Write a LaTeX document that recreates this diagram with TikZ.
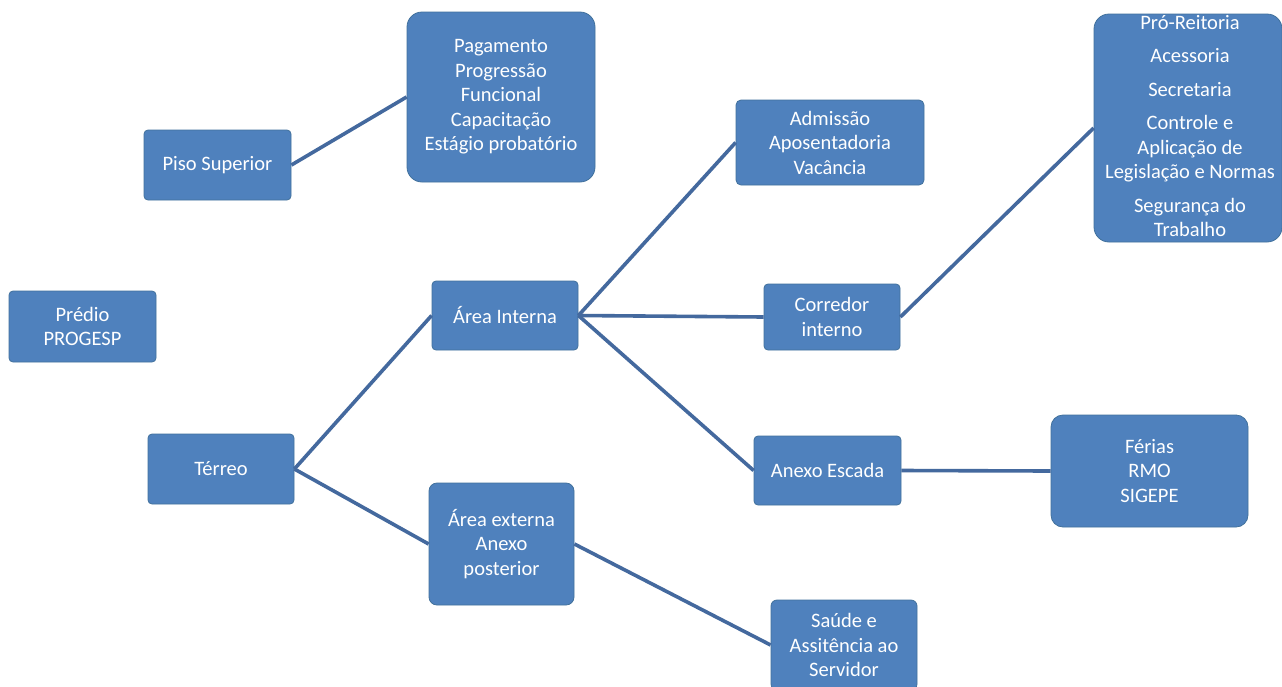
\documentclass[tikz,border=0pt]{standalone}
\usepackage{fontspec}
\setmainfont{Carlito}
\definecolor{boxfill}{HTML}{4F81BD}
\definecolor{boxline}{HTML}{41719C}
\definecolor{connline}{HTML}{44699E}
\begin{document}
\begin{tikzpicture}[x=1pt,y=-1pt,
  box/.style={draw=boxline,line width=0.8pt,fill=boxfill,text=white,
    rounded corners=#1,align=center,inner sep=0pt,
    font=\fontsize{20.5}{24.5}\selectfont},
  box/.default=4pt,
  conn/.style={draw=connline,line width=3.6pt}]
\useasboundingbox (0,0) rectangle (1282,686);
\clip (0,0) rectangle (1282,686);
\fill[white] (0,0) rectangle (1282,686);

\node[box=15pt,minimum width=188pt,minimum height=170pt] (pag) at (501,97)
  {Pagamento\\Progressão\\Funcional\\Capacitação\\Estágio probatório};
\node[box,minimum width=147pt,minimum height=70pt] (piso) at (217.5,165) {Piso Superior};
\node[box,minimum width=147pt,minimum height=71pt] (predio) at (82.5,326.5) {Prédio\\PROGESP};
\node[box,minimum width=146pt,minimum height=70pt] (terreo) at (221,469) {Térreo};
\node[box,minimum width=146pt,minimum height=69pt] (interna) at (505,315.5) {Área Interna};
\node[box=8pt,minimum width=145pt,minimum height=122pt] (externa) at (501.5,544)
  {Área externa\\Anexo\\posterior};
\node[box=5pt,minimum width=188pt,minimum height=85pt] (adm) at (830,142.5)
  {Admissão\\Aposentadoria\\Vacância};
\node[box,minimum width=136pt,minimum height=66pt] (corr) at (832,317) {Corredor\\interno};
\node[box,minimum width=147pt,minimum height=69pt] (anexo) at (827.5,470.5) {Anexo Escada};
\node[box=15pt,minimum width=188pt,minimum height=228pt] (pro) at (1188,128) {};
\node[text=white,align=center,font=\fontsize{20.5}{24.5}\selectfont,inner sep=0pt] (protext) at (1190,126)
  {Pró-Reitoria\\[9pt]Acessoria\\[9pt]Secretaria\\[9pt]Controle e\\Aplicação de\\Legislação e Normas\\[9pt]Segurança do\\Trabalho};
\node[box=12pt,minimum width=197pt,minimum height=112pt] (ferias) at (1149.5,471)
  {Férias\\RMO\\SIGEPE};
\node[box=6pt,minimum width=146pt,minimum height=90pt] (saude) at (844,645)
  {Saúde e\\Assitência ao\\Servidor};

\draw[conn] (piso.east) -- (pag.west);
\draw[conn] (terreo.east) -- (interna.west);
\draw[conn] (terreo.east) -- (externa.west);
\draw[conn] (interna.east) -- (adm.west);
\draw[conn] (interna.east) -- (corr.west);
\draw[conn] (interna.east) -- (anexo.west);
\draw[conn] (corr.east) -- (pro.west);
\draw[conn] (anexo.east) -- (ferias.west);
\draw[conn] (externa.east) -- (saude.west);
\end{tikzpicture}
\end{document}
